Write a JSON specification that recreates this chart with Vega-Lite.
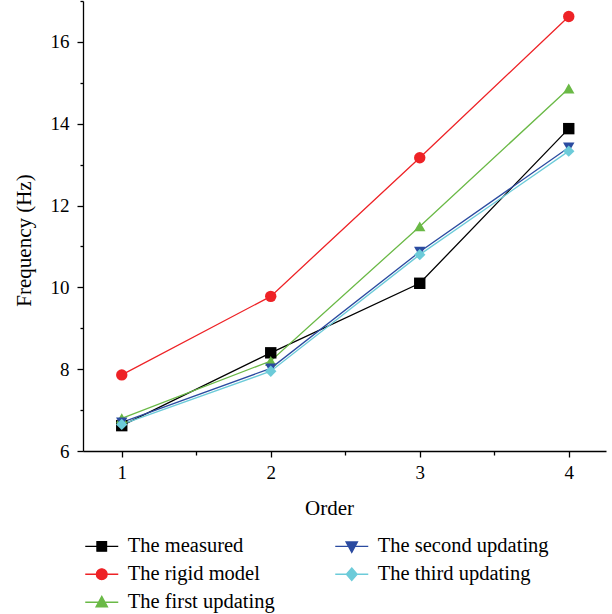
{
  "$schema": "https://vega.github.io/schema/vega-lite/v6.json",
  "autosize": {"type": "none"},
  "padding": {"left": 83, "top": 1, "right": 6, "bottom": 163},
  "width": 523,
  "height": 450,
  "background": "white",
  "config": {
    "view": {"stroke": null},
    "font": "Liberation Serif",
    "axis": {
      "domainColor": "black", "domainWidth": 1.3,
      "tickColor": "black", "tickWidth": 1.3,
      "labelFont": "Liberation Serif", "labelFontSize": 19, "labelColor": "black",
      "titleFont": "Liberation Serif", "titleFontSize": 21, "titleFontWeight": "normal", "titleColor": "black",
      "grid": false
    },
    "legend": {
      "labelFont": "Liberation Serif", "labelFontSize": 20.5, "labelColor": "black"
    }
  },
  "data": {
    "values": [
      {"order": 1, "freq": 6.62, "series": "The measured"},
      {"order": 2, "freq": 8.4, "series": "The measured"},
      {"order": 3, "freq": 10.1, "series": "The measured"},
      {"order": 4, "freq": 13.88, "series": "The measured"},
      {"order": 1, "freq": 7.86, "series": "The rigid model"},
      {"order": 2, "freq": 9.78, "series": "The rigid model"},
      {"order": 3, "freq": 13.17, "series": "The rigid model"},
      {"order": 4, "freq": 16.62, "series": "The rigid model"},
      {"order": 1, "freq": 6.8, "series": "The first updating"},
      {"order": 2, "freq": 8.2, "series": "The first updating"},
      {"order": 3, "freq": 11.49, "series": "The first updating"},
      {"order": 4, "freq": 14.86, "series": "The first updating"},
      {"order": 1, "freq": 6.7, "series": "The second updating"},
      {"order": 2, "freq": 8.02, "series": "The second updating"},
      {"order": 3, "freq": 10.87, "series": "The second updating"},
      {"order": 4, "freq": 13.42, "series": "The second updating"},
      {"order": 1, "freq": 6.65, "series": "The third updating"},
      {"order": 2, "freq": 7.95, "series": "The third updating"},
      {"order": 3, "freq": 10.8, "series": "The third updating"},
      {"order": 4, "freq": 13.33, "series": "The third updating"}
    ]
  },
  "encoding": {
    "x": {
      "field": "order", "type": "quantitative",
      "scale": {"domain": [0.74, 4.25], "nice": false, "zero": false},
      "axis": {
        "title": "Order",
        "values": [1, 1.5, 2, 2.5, 3, 3.5, 4],
        "format": ".1f",
        "labelExpr": "datum.value % 1 === 0 ? format(datum.value, 'd') : ''",
        "tickSize": {"condition": {"test": "datum.value % 1 === 0", "value": 6}, "value": 4},
        "labelPadding": 6,
        "titleX": 246,
        "titleY": 46
      }
    },
    "y": {
      "field": "freq", "type": "quantitative",
      "scale": {"domain": [6, 17], "nice": false, "zero": false},
      "axis": {
        "title": "Frequency (Hz)",
        "values": [6, 7, 8, 9, 10, 11, 12, 13, 14, 15, 16, 17],
        "labelExpr": "datum.value % 2 === 0 ? format(datum.value, 'd') : ''",
        "tickSize": {"condition": {"test": "datum.value % 2 === 0", "value": 6}, "value": 3},
        "labelPadding": 8,
        "titleX": -49,
        "titleY": 239
      }
    },
    "color": {
      "field": "series", "type": "nominal",
      "scale": {
        "domain": ["The measured", "The second updating", "The rigid model", "The third updating", "The first updating"],
        "range": ["#000000", "#2b4ba0", "#ee2226", "#6ccbd9", "#6ab946"]
      },
      "legend": {
        "title": null,
        "orient": "none",
        "direction": "horizontal",
        "columns": 2,
        "legendX": 8.5,
        "legendY": 535,
        "padding": 0,
        "symbolSize": 144,
        "labelOffset": 15.8,
        "columnPadding": 57,
        "rowPadding": 7,
        "labelLimit": 400,
        "encode": {
          "symbols": {
            "update": {
              "shape": {"signal": "datum.value === 'The measured' ? 'M-2.75,0H2.75M-0.8,-0.8H0.8V0.8H-0.8Z' : datum.value === 'The rigid model' ? 'M-2.75,0H2.75M-0.9,0A0.9,0.9,0,1,0,0.9,0A0.9,0.9,0,1,0,-0.9,0Z' : datum.value === 'The first updating' ? 'M-2.75,0H2.75M0,-1L0.95,0.75H-0.95Z' : datum.value === 'The second updating' ? 'M-2.75,0H2.75M0,1L0.95,-0.75H-0.95Z' : 'M-2.75,0H2.75M0,-1.05L0.9,0L0,1.05L-0.9,0Z'"},
              "fill": {"scale": "color", "field": "value"},
              "stroke": {"scale": "color", "field": "value"},
              "strokeWidth": {"value": 1.3},
              "opacity": {"value": 1}
            }
          }
        }
      }
    }
  },
  "layer": [
    {
      "mark": {"type": "line", "strokeWidth": 1.3},
      "encoding": {"detail": {"field": "series"}}
    },
    {
      "mark": {"type": "point", "filled": true, "opacity": 1, "size": 130},
      "encoding": {
        "shape": {
          "field": "series", "type": "nominal",
          "scale": {
            "domain": ["The measured", "The rigid model", "The first updating", "The second updating", "The third updating"],
            "range": ["square", "circle", "triangle-up", "triangle-down", "diamond"]
          },
          "legend": null
        }
      }
    }
  ]
}
